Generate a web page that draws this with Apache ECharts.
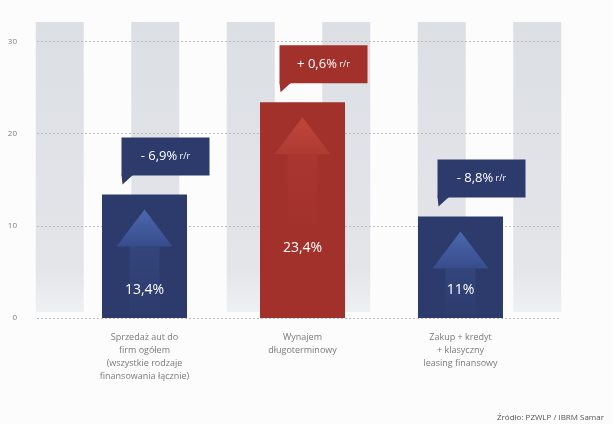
<!DOCTYPE html>
<html><head><meta charset="utf-8">
<script src="https://cdn.jsdelivr.net/npm/echarts@6/dist/echarts.min.js"></script>
<style>html,body{margin:0;padding:0;background:#fcfcfc}#c{width:613px;height:424px}</style>
</head><body><div id="c"></div>
<script>
const categories = ['Sprzedaż aut do\nfirm ogółem\n(wszystkie rodzaje\nfinansowania łącznie)', 'Wynajem\ndługoterminowy', 'Zakup + kredyt\n+ klasyczny\nleasing finansowy'];
const shares = [13.4, 23.4, 11];
const shareLabels = ['13,4%', '23,4%', '11%'];
const yoyChanges = ['- 6,9%', '+ 0,6%', '- 8,8%'];
const yoyUnit = 'r/r';
const yTicks = [0, 10, 20, 30];
const stripeSlots = ['', '', '', '', '', ''];
const stripeValues = [1, 1, 1, 1, 1, 1];
const sourceText = 'Źródło: PZWLP / IBRM Samar';

const BLUE = '#2d3b6c', RED = '#a2302b';
const barColors = [BLUE, RED, BLUE];
const headTop = ['#4b68ae', '#c0463b', '#4b68ae'];
const headBase = ['#384c8b', '#ad3b33', '#384c8b'];
const shaftTop = ['#33457c', '#a9362f', '#33457c'];
const labelLift = [28, 70, 28];
const FONT = '"Open Sans", "DejaVu Sans", sans-serif';

const chart = echarts.init(document.getElementById('c'));
const pts = shares.map((v, i) => [i, v]);
const vgrad = (y0, y1, stops) => new echarts.graphic.LinearGradient(0, y0, 0, y1, stops, true);

chart.setOption({
  backgroundColor: '#fcfcfc',
  animation: false,
  title: {
    text: sourceText, left: 492, top: 409,
    textStyle: { fontSize: 8, color: '#555', fontWeight: 'normal', fontFamily: FONT }
  },
  grid: [
    { left: 12, width: 573, top: 22, height: 290 },
    { left: 37, right: 53, top: 41.5, bottom: 106 },
    { left: 65.5, width: 474, top: 41.5, bottom: 106 }
  ],
  xAxis: [
    { gridIndex: 0, type: 'category', data: stripeSlots, show: false },
    { gridIndex: 1, type: 'category', data: [''], show: false },
    { gridIndex: 2, type: 'category', data: categories,
      axisLine: { show: false }, axisTick: { show: false },
      axisLabel: { color: '#7a7a7a', fontSize: 9, lineHeight: 13, margin: 13, fontFamily: FONT, interval: 0 } }
  ],
  yAxis: [
    { gridIndex: 0, type: 'value', min: 0, max: 1, show: false },
    { gridIndex: 1, type: 'value', min: yTicks[0], max: yTicks[yTicks.length - 1], interval: 10, z: 1,
      axisLine: { show: false }, axisTick: { show: false },
      axisLabel: { color: '#808080', fontSize: 8, margin: 20, fontFamily: FONT },
      splitLine: { lineStyle: { color: '#bdbdbd', type: [2, 2], width: 1 } } },
    { gridIndex: 2, type: 'value', min: yTicks[0], max: yTicks[yTicks.length - 1], show: false }
  ],
  series: [
    { type: 'bar', xAxisIndex: 0, yAxisIndex: 0, data: stripeValues, barWidth: 48, z: 0, silent: true,
      itemStyle: { color: new echarts.graphic.LinearGradient(0, 0, 0, 1, [
        { offset: 0, color: '#dcdfe4' }, { offset: 0.85, color: '#e3e5e9' }, { offset: 1, color: '#eff0f2' }]) } },
    { type: 'bar', xAxisIndex: 2, yAxisIndex: 2, data: shares, barWidth: 85, z: 2,
      itemStyle: { color: (p) => barColors[p.dataIndex] } },
    { type: 'custom', xAxisIndex: 2, yAxisIndex: 2, data: pts, z: 3, encode: { x: 0, y: 1 },
      renderItem: function (params, api) {
        const i = api.value(0);
        const top = api.coord([i, api.value(1)]);
        const base = api.coord([i, 0]);
        const cx = top[0], ty = top[1], by = base[1];
        const tip = ty + 15, hb = ty + 52;
        const shaftEnd = Math.min(by, hb + 90);
        return { type: 'group', children: [
          { type: 'rect', shape: { x: cx - 15, y: hb, width: 30, height: shaftEnd - hb },
            style: { fill: vgrad(hb, shaftEnd, [{ offset: 0, color: shaftTop[i] }, { offset: 1, color: barColors[i] }]) } },
          { type: 'polygon', shape: { points: [[cx, tip], [cx + 28, hb], [cx - 28, hb]] },
            style: { fill: vgrad(tip, hb, [{ offset: 0, color: headTop[i] }, { offset: 1, color: headBase[i] }]) } },
          { type: 'text', style: { text: shareLabels[i], x: cx, y: by - labelLift[i], align: 'center', verticalAlign: 'middle',
              fill: '#ffffff', fontSize: 14, fontFamily: FONT } }
        ] };
      } },
    { type: 'custom', xAxisIndex: 2, yAxisIndex: 2, data: pts, z: 4, encode: { x: 0, y: 1 },
      renderItem: function (params, api) {
        const i = api.value(0);
        const p = api.coord([i, api.value(1)]);
        const w = 88, h = 38;
        const x = p[0] - 23, y = p[1] - 19 - h;
        return { type: 'group', children: [
          { type: 'rect', shape: { x: x, y: y, width: w, height: h }, style: { fill: barColors[i] } },
          { type: 'polygon', shape: { points: [[x, y + h - 1], [x + 12, y + h - 1], [x + 1, y + h + 9]] }, style: { fill: barColors[i] } },
          { type: 'text', style: {
              text: '{a|' + yoyChanges[i] + '}{b| ' + yoyUnit + '}', x: x + w / 2, y: y + h / 2,
              align: 'center', verticalAlign: 'middle', fontFamily: FONT,
              rich: { a: { fontSize: 13, fill: '#ffffff', fontFamily: FONT }, b: { fontSize: 9, fill: '#ffffff', fontFamily: FONT } } } }
        ] };
      } }
  ]
});
</script>
</body></html>
